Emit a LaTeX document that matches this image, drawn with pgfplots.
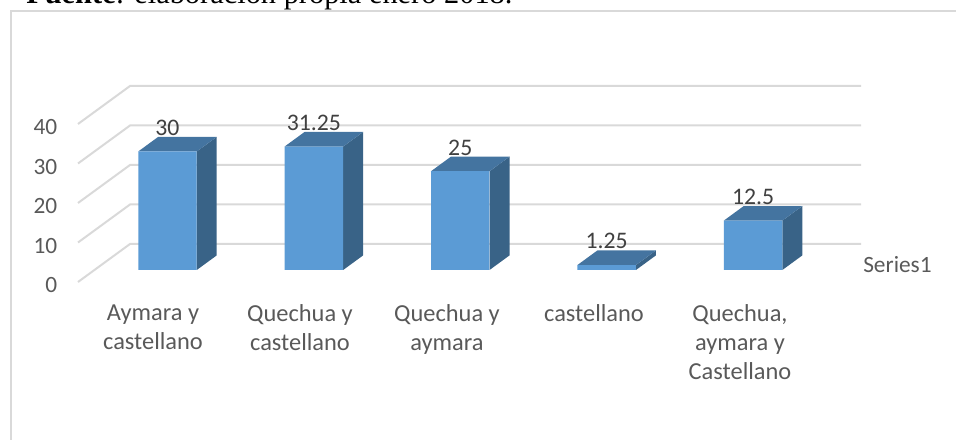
\documentclass[border=0pt]{standalone}
\usepackage{fontspec}
\setmainfont{Carlito}
\newfontfamily\timesfont{Liberation Serif}
\usepackage{pgfplots}
\pgfplotsset{compat=1.18}
\definecolor{barfront}{HTML}{5B9BD5}
\definecolor{bartop}{HTML}{4474A0}
\definecolor{barside}{HTML}{396387}
\definecolor{wall}{HTML}{D9D9D9}
\definecolor{axtext}{HTML}{595959}
\definecolor{lbltext}{HTML}{404040}

\begin{document}
\begin{tikzpicture}
\clip (0,0) rectangle (717pt,329.25pt);
% chart frame, runs off the page on the right and at the bottom
\draw[wall, line width=1.3pt] (8.25pt,-5pt) -- (8.25pt,321pt) -- (725pt,321pt);
\node[anchor=base west, inner sep=0pt, font=\timesfont\fontsize{22.8}{26}\selectfont]
  at (19.5pt,326.4pt) {\textbf{Fuente}: elaboración propia enero 2018.};

% walls of the 3D chart: value scale sits on the front edge
\begin{axis}[
  at={(58.5pt,117.75pt)}, anchor=south west,
  scale only axis, width=587.25pt, height=118.5pt,
  xmin=78, xmax=861, ymin=0, ymax=40,
  clip=false,
  axis line style={draw=none}, major tick length=0pt,
  axis x line*=bottom, axis y line*=left,
  ytick={0,10,20,30,40},
  xtick={153,300,447,594,740},
  xticklabels={Aymara y\\castellano, Quechua y\\castellano, Quechua y\\aymara, castellano, {Quechua,\\aymara y\\Castellano}},
  /pgf/number format/assume math mode=true,
  yticklabel style={font=\fontsize{17.5}{21}\selectfont, text=axtext, xshift=-12pt, yshift=-2.4pt},
  xticklabel style={font=\fontsize{18.3}{21.75}\selectfont, text=axtext, align=center, anchor=north, yshift=-13.75pt},
]
\addplot[wall, line width=1.5pt] coordinates {(78,0) (130,9.62) (861,9.62)};
\addplot[wall, line width=1.5pt] coordinates {(78,10) (130,19.62) (861,19.62)};
\addplot[wall, line width=1.5pt] coordinates {(78,20) (130,29.62) (861,29.62)};
\addplot[wall, line width=1.5pt] coordinates {(78,30) (130,39.62) (861,39.62)};
\addplot[wall, line width=1.5pt] coordinates {(78,40) (130,49.62) (861,49.62)};
\node[anchor=west, inner sep=0pt, font=\fontsize{17.5}{21}\selectfont, text=axtext]
  at (axis cs:863,4.4) {Series1};
\end{axis}

% bars, at their own depth in the chart
\begin{axis}[
  at={(70.7pt,126.75pt)}, anchor=south west,
  scale only axis, width=549pt, height=118.5pt,
  xmin=-0.5, xmax=4.5, ymin=0, ymax=40,
  clip=false, hide axis,
  /pgf/number format/assume math mode=true,
]
% side faces
\addplot[fill=barside, draw=none] coordinates {(0.2,0) (0.3366,3.7) (0.3366,33.7) (0.2,30)} -- cycle;
\addplot[fill=barside, draw=none] coordinates {(1.2,0) (1.3366,3.7) (1.3366,34.95) (1.2,31.25)} -- cycle;
\addplot[fill=barside, draw=none] coordinates {(2.2,0) (2.3366,3.7) (2.3366,28.7) (2.2,25)} -- cycle;
\addplot[fill=barside, draw=none] coordinates {(3.2,0) (3.3366,3.7) (3.3366,4.95) (3.2,1.25)} -- cycle;
\addplot[fill=barside, draw=none] coordinates {(4.2,0) (4.3366,3.7) (4.3366,16.2) (4.2,12.5)} -- cycle;
% top faces
\addplot[fill=bartop, draw=none] coordinates {(-0.2,30) (-0.0634,33.7) (0.3366,33.7) (0.2,30)} -- cycle;
\addplot[fill=bartop, draw=none] coordinates {(0.8,31.25) (0.9366,34.95) (1.3366,34.95) (1.2,31.25)} -- cycle;
\addplot[fill=bartop, draw=none] coordinates {(1.8,25) (1.9366,28.7) (2.3366,28.7) (2.2,25)} -- cycle;
\addplot[fill=bartop, draw=none] coordinates {(2.8,1.25) (2.9366,4.95) (3.3366,4.95) (3.2,1.25)} -- cycle;
\addplot[fill=bartop, draw=none] coordinates {(3.8,12.5) (3.9366,16.2) (4.3366,16.2) (4.2,12.5)} -- cycle;
% front faces with the value labels
\addplot[ybar, bar width=43.8pt, fill=barfront, draw=none,
  nodes near coords,
  every node near coord/.append style={anchor=center, yshift=17.8pt, inner sep=0pt,
    font=\fontsize{17.8}{21}\selectfont, text=lbltext},
] coordinates {(0,30) (1,31.25) (2,25) (3,1.25) (4,12.5)};
\end{axis}
\end{tikzpicture}
\end{document}
